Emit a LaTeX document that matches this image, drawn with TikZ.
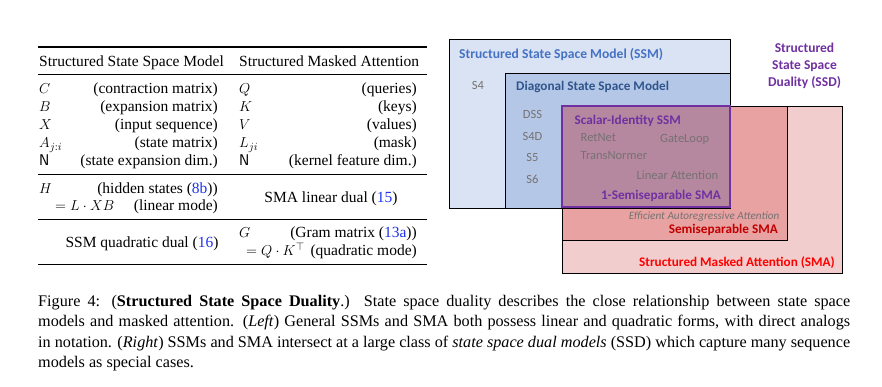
\documentclass[tikz,border=0pt]{standalone}
\usepackage{amsmath,amssymb}
\usepackage{fontspec}
\setmainfont{Liberation Serif}
\newfontfamily\diagfont{Carlito}
\usetikzlibrary{positioning}
\definecolor{ssmFill}{RGB}{218,227,243}
\definecolor{diagFill}{RGB}{180,199,231}
\definecolor{ssmText}{RGB}{68,114,196}
\definecolor{diagText}{RGB}{47,85,140}
\definecolor{ssdPurple}{RGB}{112,48,160}
\definecolor{scalarFill}{RGB}{181,136,160}
\definecolor{semiFill}{RGB}{232,162,162}
\definecolor{smaFill}{RGB}{242,205,205}
\definecolor{semiText}{RGB}{192,0,0}
\definecolor{smaText}{RGB}{255,0,0}
\definecolor{modelGray}{RGB}{118,113,113}
\definecolor{refBlue}{RGB}{30,50,235}
\newcommand{\eqnum}[1]{\textcolor{refBlue}{#1}}
\tikzset{
	tabtext/.style={inner sep=0pt, font=\fontsize{15.5}{18}\selectfont},
	toprule/.style={line width=1.1pt},
	midrule/.style={line width=0.7pt},
	capline/.style={inner sep=0pt, anchor=base west, font=\fontsize{16.2}{20}\selectfont},
	setbox/.style={draw=black, line width=0.9pt},
	settitle/.style={inner sep=0pt, font=\diagfont\bfseries\fontsize{13.2}{15}\selectfont},
	modelname/.style={inner sep=0pt, text=modelGray, font=\diagfont\fontsize{12.5}{14}\selectfont}
}
\begin{document}
\begin{tikzpicture}[x=1pt, y=-1pt]
	\useasboundingbox (0,0) rectangle (882,387);
	% table
	\draw[toprule] (38,47) -- (427,47);
	\draw[midrule] (38,74.5) -- (427,74.5);
	\draw[midrule] (38,174.5) -- (427,174.5);
	\draw[midrule] (38,219.5) -- (427,219.5);
	\draw[toprule] (38,264.5) -- (427,264.5);
	\node[tabtext, anchor=base west] (ssmHead) at (39,67) {Structured State Space Model};
	\node[tabtext, anchor=base west] (smaHead) at (239,67) {Structured Masked Attention};
	\node[tabtext, anchor=base west] (symC) at (39,94) {$C$};
	\node[tabtext, anchor=base east] (descC) at (218,94) {(contraction matrix)};
	\node[tabtext, anchor=base west] (symB) at (39,112) {$B$};
	\node[tabtext, anchor=base east] (descB) at (218,112) {(expansion matrix)};
	\node[tabtext, anchor=base west] (symX) at (39,130) {$X$};
	\node[tabtext, anchor=base east] (descX) at (218,130) {(input sequence)};
	\node[tabtext, anchor=base west] (symA) at (39,148) {$A_{j:i}$};
	\node[tabtext, anchor=base east] (descA) at (218,148) {(state matrix)};
	\node[tabtext, anchor=base west] (symN) at (39,166) {$\mathsf{N}$};
	\node[tabtext, anchor=base east] (descN) at (218,166) {(state expansion dim.)};
	\node[tabtext, anchor=base west] (symQ) at (239,94) {$Q$};
	\node[tabtext, anchor=base east] (descQ) at (417,94) {(queries)};
	\node[tabtext, anchor=base west] (symK) at (239,112) {$K$};
	\node[tabtext, anchor=base east] (descK) at (417,112) {(keys)};
	\node[tabtext, anchor=base west] (symV) at (239,130) {$V$};
	\node[tabtext, anchor=base east] (descV) at (417,130) {(values)};
	\node[tabtext, anchor=base west] (symL) at (239,148) {$L_{ji}$};
	\node[tabtext, anchor=base east] (descL) at (417,148) {(mask)};
	\node[tabtext, anchor=base west] (symNk) at (239,166) {$\mathsf{N}$};
	\node[tabtext, anchor=base east] (descNk) at (417,166) {(kernel feature dim.)};
	\node[tabtext, anchor=base west] (symH) at (39,193.5) {$H$};
	\node[tabtext, anchor=base east] (descH) at (218,193.5) {(hidden states (\eqnum{8b}))};
	\node[tabtext, anchor=base west] (eqH) at (55,211) {$= L \cdot XB$};
	\node[tabtext, anchor=base east] (modeH) at (218,211) {(linear mode)};
	\node[tabtext, anchor=base] (ssmQuad) at (142,247.5) {SSM quadratic dual (\eqnum{16})};
	\node[tabtext, anchor=base] (smaLin) at (331,202.5) {SMA linear dual (\eqnum{15})};
	\node[tabtext, anchor=base west] (symG) at (239,237.5) {$G$};
	\node[tabtext, anchor=base east] (descG) at (417,237.5) {(Gram matrix (\eqnum{13a}))};
	\node[tabtext, anchor=base west] (eqG) at (246,255.5) {$= Q \cdot K^{\top}$};
	\node[tabtext, anchor=base east] (modeG) at (417,255.5) {(quadratic mode)};
	% sets
	\filldraw[setbox, fill=smaFill] (562,106) rectangle (842,273);
	\filldraw[setbox, fill=semiFill] (562,106) rectangle (787,240);
	\filldraw[setbox, fill=ssmFill] (449,39) rectangle (730,208);
	\filldraw[setbox, fill=diagFill] (505,73) rectangle (730,208);
	\filldraw[fill=scalarFill, draw=ssdPurple, line width=2pt] (562,106) rectangle (730,207);
	\node[settitle, text=ssmText, font=\diagfont\bfseries\fontsize{13.6}{16}\selectfont, anchor=base west] (ssmTitle) at (459,58.5) {Structured State Space Model (SSM)};
	\node[modelname, anchor=base] (sFour) at (478,90) {S4};
	\node[settitle, text=diagText, anchor=base west] (diagTitle) at (516,90.5) {Diagonal State Space Model};
	\node[modelname, anchor=base] (dss) at (532.5,119) {DSS};
	\node[modelname, anchor=base] (sFourD) at (532.5,140.5) {S4D};
	\node[modelname, anchor=base] (sFive) at (532.5,162) {S5};
	\node[modelname, anchor=base] (sSix) at (532.5,183.5) {S6};
	\node[settitle, text=ssdPurple, anchor=base west] (scalarTitle) at (574.5,125) {Scalar-Identity SSM};
	\node[modelname, anchor=base west] (retnet) at (580.5,142) {RetNet};
	\node[modelname, anchor=base west] (gateloop) at (660,142.5) {GateLoop};
	\node[modelname, anchor=base west] (transnormer) at (580.5,160) {TransNormer};
	\node[modelname, anchor=base east] (linattn) at (718.5,180) {Linear Attention};
	\node[settitle, text=ssdPurple, anchor=base east] (oneSemi) at (721,199.5) {1-Semiseparable SMA};
	\node[modelname, font=\diagfont\itshape\fontsize{11.2}{13}\selectfont, anchor=base east] (effattn) at (779.5,219) {Efficient Autoregressive Attention};
	\node[settitle, text=semiText, anchor=base east] (semiTitle) at (778,233.5) {Semiseparable SMA};
	\node[settitle, text=smaText, anchor=base east] (smaTitle) at (835,266.5) {Structured Masked Attention (SMA)};
	\node[settitle, text=ssdPurple, align=center, font=\diagfont\bfseries\fontsize{13.5}{17}\selectfont, anchor=base] (ssdTitle) at (804.5,86.7) {Structured\\State Space\\Duality (SSD)};
	% caption
	\node[capline] (capOne) at (38,306) {\makebox[812pt][s]{Figure 4: (\textbf{Structured State Space Duality}.)\ \ State space duality describes the close relationship between state space}};
	\node[capline] (capTwo) at (38,326.5) {\makebox[812pt][s]{models and masked attention. (\textit{Left}) General SSMs and SMA both possess linear and quadratic forms, with direct analogs}};
	\node[capline] (capThree) at (38,347) {\makebox[812pt][s]{in notation. (\textit{Right}) SSMs and SMA intersect at a large class of \textit{state space dual models} (SSD) which capture many sequence}};
	\node[capline] (capFour) at (38,367.5) {models as special cases.};
\end{tikzpicture}
\end{document}
